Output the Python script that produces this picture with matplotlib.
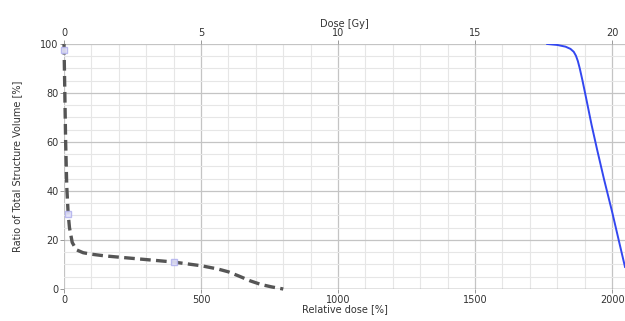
import matplotlib.pyplot as plt
import numpy as np

# gray dashed structure (relative dose %, volume %)
gray_dose = [0, 3, 6, 10, 15, 20, 30, 45, 70, 100, 150, 200, 300, 400, 500, 560, 600, 640, 680, 720, 760, 800]
gray_vol = [100, 80, 60, 42, 31, 25, 19, 16, 14.8, 14.2, 13.5, 13, 12, 11, 9.5, 8.2, 7, 5.2, 3.3, 1.8, 0.8, 0]

# blue structure
blue_dose = [1763, 1800, 1830, 1848, 1860, 1868, 1875, 1882, 1892, 1905, 1925, 1945, 1970, 2000, 2025, 2047]
blue_vol = [100, 99.6, 98.9, 98.0, 96.8, 95.2, 93.0, 90.0, 85, 78, 67, 57, 45, 31.5, 19.5, 9]

# markers on the gray curve
mark_dose = [0, 15, 400]
mark_vol = [97.5, 30.5, 11]

xmax = 2047

fig = plt.figure(figsize=(6.25, 3.21), dpi=100)
ax = fig.add_axes([0.1024, 0.0997, 0.8976, 0.7633])
ax.set_xlim(0, xmax)
ax.set_ylim(0, 100)

# grid
ax.set_xticks(np.arange(0, 2001, 500))
ax.set_xticks(np.arange(0, 2001, 100), minor=True)
ax.set_yticks(np.arange(0, 101, 20))
ax.set_yticks(np.arange(0, 101, 5), minor=True)
ax.grid(which='major', color='#c4c4c4', lw=0.9)
ax.grid(which='minor', color='#e6e6e6', lw=0.8)
ax.set_axisbelow(True)
ax.axhline(0, color='#909090', lw=1.0, zorder=1)

for s in ax.spines.values():
    s.set_visible(False)

ax.tick_params(which='major', length=3, width=0.6, color='#888888', labelsize=7, labelcolor='#333333', pad=1)
ax.tick_params(which='minor', length=0)

ax.plot(gray_dose, gray_vol, color='#555555', lw=2.4, ls=(0, (3.2, 1.6)), zorder=3, clip_on=False)
ax.plot(blue_dose, blue_vol, color='#3347f0', lw=1.4, zorder=3)
ax.plot(mark_dose, mark_vol, ls='none', marker='s', ms=5, mfc='#e4e4fa', mec='#b4b4ee', mew=1.0, alpha=0.9, zorder=4, clip_on=False)

ax.set_xlabel('Relative dose [%]', fontsize=7, color='#333333', labelpad=0)
ax.set_ylabel('Ratio of Total Structure Volume [%]', fontsize=7, color='#333333', labelpad=13)

top = ax.twiny()
top.set_xlim(0, xmax / 100)
top.set_xticks([0, 5, 10, 15, 20])
for s in top.spines.values():
    s.set_visible(False)
top.tick_params(length=3, width=0.6, color='#888888', labelsize=7, labelcolor='#333333', pad=1)
top.set_xlabel('Dose [Gy]', fontsize=7, color='#333333', labelpad=1)

fig.savefig('out.png', dpi=100)
